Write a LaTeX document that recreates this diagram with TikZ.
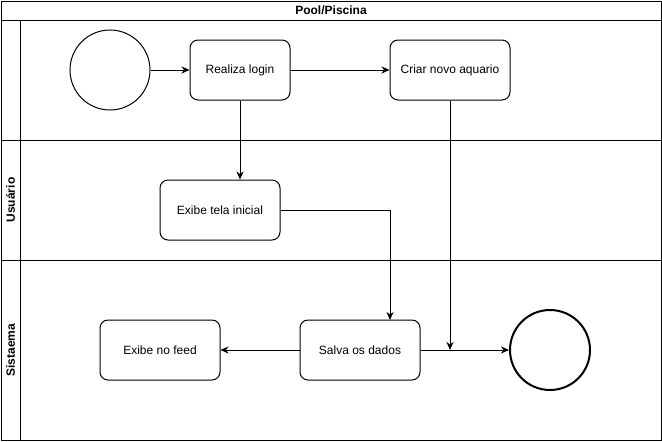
\documentclass[tikz,border=0pt]{standalone}
\usepackage{fontspec}
\setmainfont{Liberation Sans}
\usetikzlibrary{arrows.meta}
\begin{document}
\begin{tikzpicture}[x=1pt,y=-1pt,line width=1pt,
  every node/.style={font=\fontsize{12}{14}\selectfont},
  proc/.style={draw,rounded corners=8pt,minimum width=100pt,minimum height=60pt,inner sep=0pt,line width=1pt},
  proc120/.style={proc,minimum width=120pt},
  startc/.style={draw,circle,minimum size=80pt,inner sep=0pt,line width=1pt},
  endc/.style={draw,circle,minimum size=80pt,inner sep=0pt,line width=2pt},
  lanelbl/.style={font=\bfseries\fontsize{12}{14}\selectfont,rotate=90},
  arr/.style={-{Stealth[length=8pt,width=7pt,inset=2.5pt]},line width=1pt}]
\useasboundingbox (0,0) rectangle (662,442);
% pool frame
\draw (1,1) rectangle (661,440);
\draw (1,20) -- (661,20);
\draw (20,20) -- (20,440);
\draw (1,140) -- (661,140);
\draw (1,260) -- (661,260);
\node[font=\bfseries\fontsize{12}{14}\selectfont] (title) at (331,10.5) {Pool/Piscina};
\node[lanelbl] (lu) at (10.5,200) {Usuário};
\node[lanelbl] (ls) at (10.5,350) {Sistaema};
% nodes
\node[startc] (start) at (110,70) {};
\node[proc] (login) at (240,70) {Realiza login};
\node[proc120] (criar) at (450,70) {Criar novo aquario};
\node[proc120] (tela) at (220,210) {Exibe tela inicial};
\node[proc120] (feed) at (160,350) {Exibe no feed};
\node[proc120] (salva) at (360,350) {Salva os dados};
\node[endc] (fim) at (550,350) {};
\coordinate (join) at (450,350);
% edges
\draw[arr] (start) -- (login);
\draw[arr] (login) -- (criar);
\draw[arr] (login.south) -- (login.south |- tela.north);
\draw[arr] (tela.east) -- (390,210) -- (390,320);
\draw[arr] (salva) -- (feed);
\draw[arr] (salva) -- (fim);
\draw[arr] (criar.south) -- (join);
\end{tikzpicture}
\end{document}
